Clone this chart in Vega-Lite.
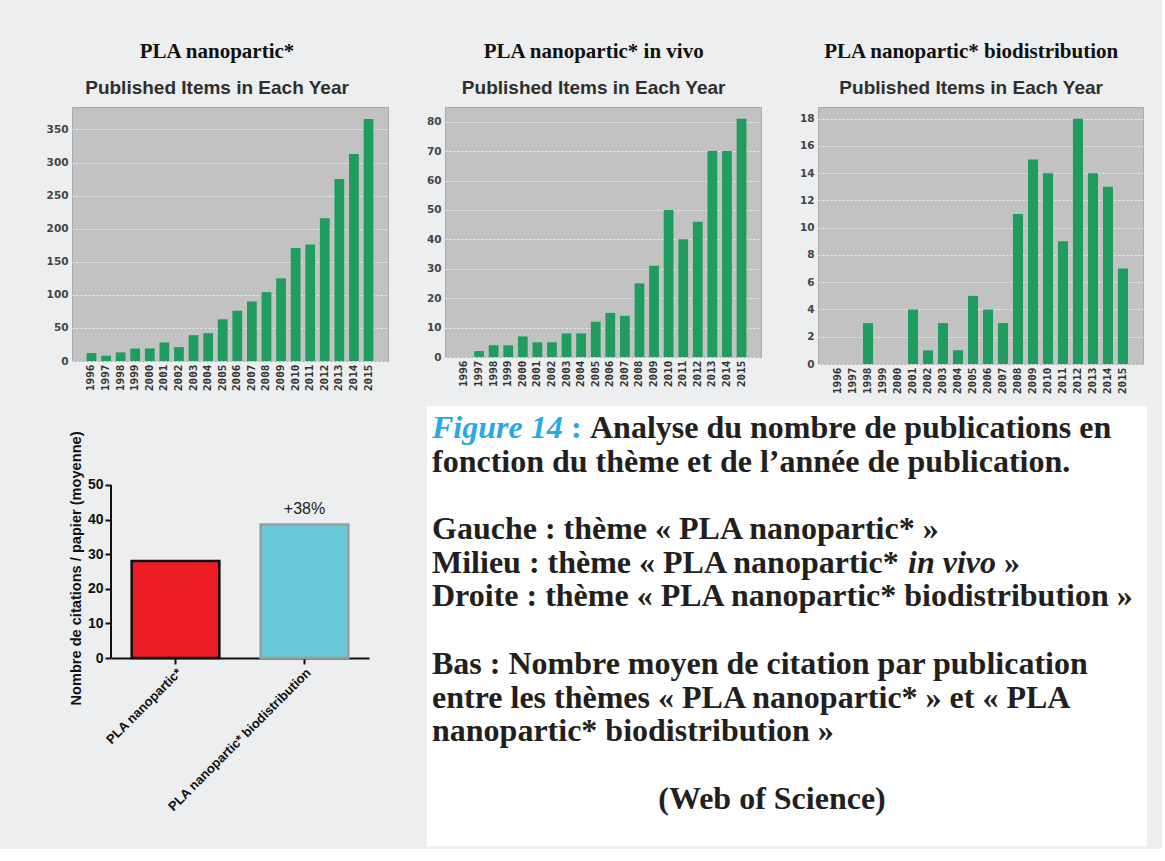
{
  "$schema": "https://vega.github.io/schema/vega-lite/v6.json",
  "background": "#eceef0",
  "padding": {"left": 45, "top": 40, "right": 15, "bottom": 3},
  "datasets": {
    "all": [
      {"year": "1996", "n": 12}, {"year": "1997", "n": 8}, {"year": "1998", "n": 13}, {"year": "1999", "n": 19},
      {"year": "2000", "n": 19}, {"year": "2001", "n": 28}, {"year": "2002", "n": 21}, {"year": "2003", "n": 39},
      {"year": "2004", "n": 42}, {"year": "2005", "n": 63}, {"year": "2006", "n": 76}, {"year": "2007", "n": 90},
      {"year": "2008", "n": 104}, {"year": "2009", "n": 125}, {"year": "2010", "n": 171}, {"year": "2011", "n": 176},
      {"year": "2012", "n": 216}, {"year": "2013", "n": 275}, {"year": "2014", "n": 313}, {"year": "2015", "n": 366}
    ],
    "vivo": [
      {"year": "1996", "n": 0}, {"year": "1997", "n": 2}, {"year": "1998", "n": 4}, {"year": "1999", "n": 4},
      {"year": "2000", "n": 7}, {"year": "2001", "n": 5}, {"year": "2002", "n": 5}, {"year": "2003", "n": 8},
      {"year": "2004", "n": 8}, {"year": "2005", "n": 12}, {"year": "2006", "n": 15}, {"year": "2007", "n": 14},
      {"year": "2008", "n": 25}, {"year": "2009", "n": 31}, {"year": "2010", "n": 50}, {"year": "2011", "n": 40},
      {"year": "2012", "n": 46}, {"year": "2013", "n": 70}, {"year": "2014", "n": 70}, {"year": "2015", "n": 81}
    ],
    "bio": [
      {"year": "1996", "n": 0}, {"year": "1997", "n": 0}, {"year": "1998", "n": 3}, {"year": "1999", "n": 0},
      {"year": "2000", "n": 0}, {"year": "2001", "n": 4}, {"year": "2002", "n": 1}, {"year": "2003", "n": 3},
      {"year": "2004", "n": 1}, {"year": "2005", "n": 5}, {"year": "2006", "n": 4}, {"year": "2007", "n": 3},
      {"year": "2008", "n": 11}, {"year": "2009", "n": 15}, {"year": "2010", "n": 14}, {"year": "2011", "n": 9},
      {"year": "2012", "n": 18}, {"year": "2013", "n": 14}, {"year": "2014", "n": 13}, {"year": "2015", "n": 7}
    ],
    "cit": [
      {"theme": "PLA nanopartic*", "cit": 28, "label": ""},
      {"theme": "PLA nanopartic* biodistribution", "cit": 38.6, "label": "+38%"}
    ],
    "caption": [
      {"line": 1, "seg": "fig", "text": "Figure 14"},
      {"line": 1, "seg": "colon", "text": ":"},
      {"line": 1, "seg": "after", "text": "Analyse du nombre de publications en"},
      {"line": 2, "seg": "main", "text": "fonction du thème et de l’année de publication."},
      {"line": 4, "seg": "main", "text": " Gauche : thème « PLA nanopartic* »"},
      {"line": 5, "seg": "main", "text": "Milieu : thème « PLA nanopartic*"},
      {"line": 5, "seg": "italic", "text": "in vivo"},
      {"line": 5, "seg": "close", "text": "»"},
      {"line": 6, "seg": "main", "text": "Droite : thème « PLA nanopartic* biodistribution »"},
      {"line": 8, "seg": "main", "text": "Bas : Nombre moyen de citation par publication"},
      {"line": 9, "seg": "main", "text": "entre les thèmes « PLA nanopartic* » et « PLA"},
      {"line": 10, "seg": "main", "text": "nanopartic* biodistribution »"},
      {"line": 12, "seg": "source", "text": "(Web of Science)"}
    ]
  },
  "spacing": 12,
  "vconcat": [
    {
      "bounds": "flush",
      "spacing": 57,
      "hconcat": [
        {
          "width": 316, "height": 254,
          "title": {"text": "PLA nanopartic*", "subtitle": "Published Items in Each Year"},
          "data": {"name": "all"},
          "view": {"fill": "#c2c2c2", "stroke": "#ababab"},
          "mark": {"type": "bar", "color": "#1f9c5e"},
          "encoding": {
            "x": {"field": "year", "type": "ordinal", "scale": {"paddingInner": 0.33, "paddingOuter": 1.2},
                  "axis": {"title": null, "labelAngle": -90, "labelFont": "DejaVu Sans Mono", "labelFontSize": 11, "labelFontWeight": "bold", "labelColor": "#333", "ticks": false, "domain": false, "labelPadding": 3}},
            "y": {"field": "n", "type": "quantitative", "scale": {"domain": [0, 384], "nice": false},
                  "axis": {"title": null, "values": [0, 50, 100, 150, 200, 250, 300, 350], "labelFont": "DejaVu Sans", "labelFontSize": 10.5, "labelFontWeight": "bold", "labelColor": "#444", "ticks": false, "domain": false, "labelPadding": 4, "grid": true, "gridColor": "#ffffff", "gridDash": [2, 2], "gridOpacity": 0.7}}
          }
        },
        {
          "width": 316, "height": 250,
          "title": {"text": "PLA nanopartic* in vivo", "subtitle": "Published Items in Each Year"},
          "data": {"name": "vivo"},
          "view": {"fill": "#c2c2c2", "stroke": "#ababab"},
          "mark": {"type": "bar", "color": "#1f9c5e"},
          "encoding": {
            "x": {"field": "year", "type": "ordinal", "scale": {"paddingInner": 0.33, "paddingOuter": 1.2},
                  "axis": {"title": null, "labelAngle": -90, "labelFont": "DejaVu Sans Mono", "labelFontSize": 11, "labelFontWeight": "bold", "labelColor": "#333", "ticks": false, "domain": false, "labelPadding": 3}},
            "y": {"field": "n", "type": "quantitative", "scale": {"domain": [0, 85], "nice": false},
                  "axis": {"title": null, "values": [0, 10, 20, 30, 40, 50, 60, 70, 80], "labelFont": "DejaVu Sans", "labelFontSize": 10.5, "labelFontWeight": "bold", "labelColor": "#444", "ticks": false, "domain": false, "labelPadding": 4, "grid": true, "gridColor": "#ffffff", "gridDash": [2, 2], "gridOpacity": 0.7}}
          }
        },
        {
          "width": 325, "height": 257,
          "title": {"text": "PLA nanopartic* biodistribution", "subtitle": "Published Items in Each Year"},
          "data": {"name": "bio"},
          "view": {"fill": "#c2c2c2", "stroke": "#ababab"},
          "mark": {"type": "bar", "color": "#1f9c5e"},
          "encoding": {
            "x": {"field": "year", "type": "ordinal", "scale": {"paddingInner": 0.33, "paddingOuter": 1.2},
                  "axis": {"title": null, "labelAngle": -90, "labelFont": "DejaVu Sans Mono", "labelFontSize": 11, "labelFontWeight": "bold", "labelColor": "#333", "ticks": false, "domain": false, "labelPadding": 3}},
            "y": {"field": "n", "type": "quantitative", "scale": {"domain": [0, 18.86], "nice": false},
                  "axis": {"title": null, "values": [0, 2, 4, 6, 8, 10, 12, 14, 16, 18], "labelFont": "DejaVu Sans", "labelFontSize": 10.5, "labelFontWeight": "bold", "labelColor": "#444", "ticks": false, "domain": false, "labelPadding": 4, "grid": true, "gridColor": "#ffffff", "gridDash": [2, 2], "gridOpacity": 0.7}}
          }
        }
      ]
    },
    {
      "spacing": -5,
      "hconcat": [
        {
          "width": 1, "height": 1,
          "data": {"values": []},
          "mark": {"type": "point", "opacity": 0},
          "view": {"stroke": null}
        },
        {
          "spacing": 58,
          "hconcat": [
            {
              "width": 258, "height": 440,
              "data": {"name": "cit"},
              "view": {"stroke": null},
              "layer": [
                {
                  "mark": {"type": "bar", "strokeWidth": 2.5},
                  "encoding": {
                    "x": {"field": "theme", "type": "nominal", "sort": null, "scale": {"paddingInner": 0.32, "paddingOuter": 0.16},
                          "axis": {"title": null, "offset": -188, "labelAngle": -45, "labelLimit": 0, "labelFont": "Liberation Sans", "labelFontSize": 13, "labelFontWeight": "bold", "labelColor": "#111", "domainColor": "#111", "domainWidth": 2, "tickColor": "#111", "tickWidth": 2, "tickSize": 6, "labelPadding": 2}},
                    "y": {"field": "cit", "type": "quantitative", "scale": {"domain": [-54.3, 72.8], "nice": false, "zero": false},
                          "axis": {"title": "Nombre de citations / papier (moyenne)", "titleY": 162, "titleFont": "Liberation Sans", "titleFontSize": 14.6, "titleFontWeight": "bold", "titleColor": "#111", "titlePadding": 4, "values": [0, 10, 20, 30, 40, 50], "grid": false, "domain": false, "labelFont": "Liberation Sans", "labelFontSize": 14, "labelFontWeight": "bold", "labelColor": "#111", "tickColor": "#111", "tickWidth": 2, "tickSize": 6, "labelPadding": 2}},
                    "color": {"field": "theme", "type": "nominal", "scale": {"range": ["#ec1c24", "#68c8da"]}, "legend": null},
                    "stroke": {"field": "theme", "type": "nominal", "scale": {"range": ["#111111", "#9c9c9c"]}, "legend": null}
                  }
                },
                {
                  "mark": {"type": "rule", "color": "#111111", "strokeWidth": 2},
                  "encoding": {"x": {"value": 0}, "y": {"datum": 0, "type": "quantitative"}, "y2": {"datum": 50}}
                },
                {
                  "mark": {"type": "text", "baseline": "bottom", "dy": -7, "font": "Liberation Sans", "fontSize": 16, "color": "#222"},
                  "encoding": {
                    "x": {"field": "theme", "type": "nominal", "sort": null},
                    "y": {"field": "cit", "type": "quantitative"},
                    "text": {"field": "label"}
                  }
                }
              ]
            },
            {
              "width": 720, "height": 440,
              "data": {"name": "caption"},
              "view": {"fill": "#ffffff", "stroke": null},
              "encoding": {
                "x": {"datum": 0, "type": "quantitative", "scale": {"domain": [0, 1]}, "axis": null},
                "y": {"field": "line", "type": "quantitative", "scale": {"domain": [0.05, 13.11], "reverse": true, "zero": false, "nice": false}, "axis": null},
                "text": {"field": "text"}
              },
              "layer": [
                {"transform": [{"filter": "datum.seg === 'fig'"}],
                 "mark": {"type": "text", "align": "left", "baseline": "alphabetic", "dx": 5, "font": "Liberation Serif", "fontSize": 32, "fontWeight": "bold", "fontStyle": "italic", "color": "#27a9e1"}},
                {"transform": [{"filter": "datum.seg === 'colon'"}],
                 "mark": {"type": "text", "align": "left", "baseline": "alphabetic", "dx": 144, "font": "Liberation Serif", "fontSize": 32, "fontWeight": "bold", "color": "#27a9e1"}},
                {"transform": [{"filter": "datum.seg === 'after'"}],
                 "mark": {"type": "text", "align": "left", "baseline": "alphabetic", "dx": 163, "font": "Liberation Serif", "fontSize": 32, "fontWeight": "bold", "color": "#231f20"}},
                {"transform": [{"filter": "datum.seg === 'main'"}],
                 "mark": {"type": "text", "align": "left", "baseline": "alphabetic", "dx": 5, "font": "Liberation Serif", "fontSize": 32, "fontWeight": "bold", "color": "#231f20"}},
                {"transform": [{"filter": "datum.seg === 'italic'"}],
                 "mark": {"type": "text", "align": "left", "baseline": "alphabetic", "dx": 481, "font": "Liberation Serif", "fontSize": 32, "fontWeight": "bold", "fontStyle": "italic", "color": "#231f20"}},
                {"transform": [{"filter": "datum.seg === 'close'"}],
                 "mark": {"type": "text", "align": "left", "baseline": "alphabetic", "dx": 577, "font": "Liberation Serif", "fontSize": 32, "fontWeight": "bold", "color": "#231f20"}},
                {"transform": [{"filter": "datum.seg === 'source'"}],
                 "mark": {"type": "text", "align": "center", "baseline": "alphabetic", "dx": 345, "font": "Liberation Serif", "fontSize": 32, "fontWeight": "bold", "color": "#231f20"}}
              ]
            }
          ]
        }
      ]
    }
  ],
  "config": {
    "title": {"font": "Liberation Serif", "fontSize": 21, "fontWeight": "bold", "color": "#111111", "subtitleFont": "Liberation Sans", "subtitleFontSize": 19, "subtitleFontWeight": "bold", "subtitleColor": "#2f2f2f", "subtitlePadding": 17, "offset": 9, "anchor": "middle", "frame": "bounds"}
  }
}
